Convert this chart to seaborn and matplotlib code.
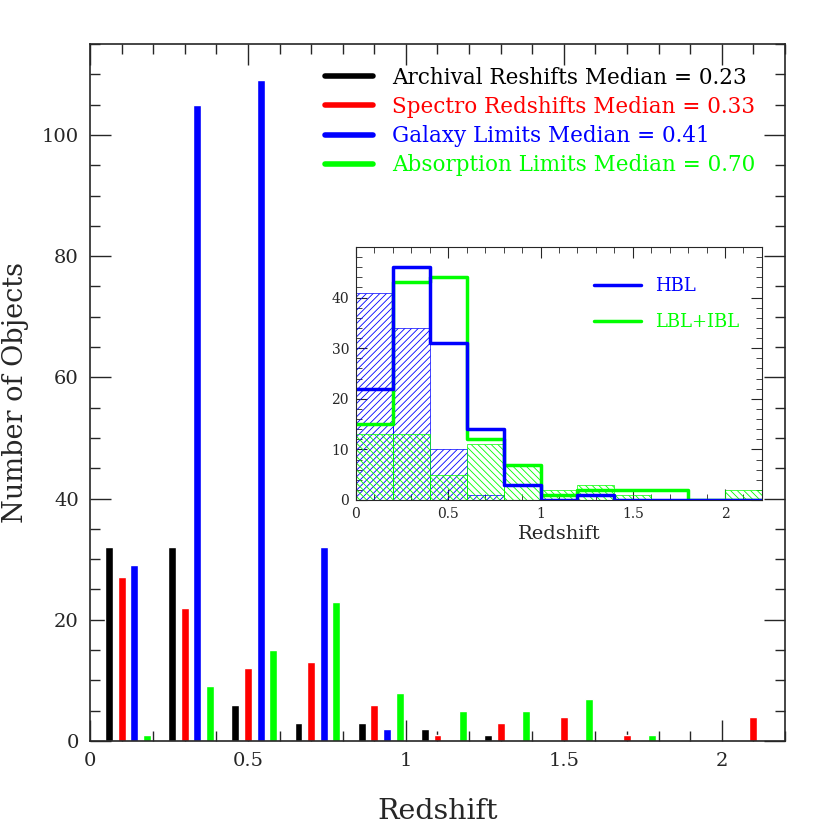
import numpy as np
import pandas as pd
import matplotlib
matplotlib.use('Agg')
import matplotlib.pyplot as plt
import seaborn as sns
from matplotlib.lines import Line2D
from matplotlib.ticker import MultipleLocator

# Datos - histograma principal (bins de 0.2)
bin_lo = [0.0, 0.2, 0.4, 0.6, 0.8, 1.0, 1.2, 1.4, 1.6, 1.8, 2.0]
archival = [32, 32, 6, 3, 3, 2, 1, 0, 0, 0, 0]
spectro = [27, 22, 12, 13, 6, 1, 3, 4, 1, 0, 4]
galaxy = [29, 105, 109, 32, 2, 0, 0, 0, 0, 0, 0]
absorption = [1, 9, 15, 23, 8, 5, 5, 7, 1, 0, 0]
series_names = ['Archival Reshifts Median = 0.23', 'Spectro Redshifts Median = 0.33',
                'Galaxy Limits Median = 0.41', 'Absorption Limits Median = 0.70']
series_colors = ['black', 'red', 'blue', 'lime']

# Datos - inset
edges = [0.0, 0.2, 0.4, 0.6, 0.8, 1.0, 1.2, 1.4, 1.6, 1.8, 2.0, 2.2]
hbl = [22, 46, 31, 14, 3, 0, 1, 0, 0, 0, 0]
lbl_ibl = [15, 43, 44, 12, 7, 1, 2, 2, 2, 0, 0]
hbl_hatch = [41, 34, 10, 1, 0, 0, 0, 0, 0, 0, 0]
lbl_hatch = [13, 13, 5, 11, 7, 2, 3, 1, 0, 0, 2]

rows = []
for name, vals in zip(series_names, [archival, spectro, galaxy, absorption]):
    for b, v in zip(bin_lo, vals):
        rows.append({'z': round(b + 0.12, 2), 'n': v, 'serie': name})
df = pd.DataFrame(rows)

sns.set_style('ticks')
plt.rcParams['font.family'] = ['DejaVu Serif']
plt.rcParams['hatch.linewidth'] = 0.6

fig = plt.figure(figsize=(8.3, 8.3), dpi=100)
ax = fig.add_axes([0.1084, 0.1072, 0.8374, 0.8398])

sns.barplot(data=df, x='z', y='n', hue='serie', hue_order=series_names,
            palette=series_colors, native_scale=True, width=0.8, gap=0.375,
            dodge=True, saturation=1, legend=False, ax=ax)

ax.set_xlim(0, 2.2)
ax.set_ylim(0, 115)
ax.xaxis.set_major_locator(MultipleLocator(0.5))
ax.xaxis.set_minor_locator(MultipleLocator(0.1))
ax.yaxis.set_major_locator(MultipleLocator(20))
ax.yaxis.set_minor_locator(MultipleLocator(5))
ax.xaxis.set_major_formatter(plt.FuncFormatter(lambda v, p: f'{v:g}'))
ax.tick_params(which='both', direction='in', top=True, right=True, labelsize=14, pad=8)
ax.tick_params(which='major', length=15, width=1)
ax.tick_params(which='minor', length=7, width=1)
for s in ax.spines.values():
    s.set_linewidth(1.2)
ax.set_xlabel('Redshift', fontsize=20.5, labelpad=20)
ax.set_ylabel('Number of Objects', fontsize=19.5)
ax.yaxis.set_label_coords(-0.088, 0.5)

handles = [Line2D([], [], color=c, lw=4) for c in series_colors]
leg = ax.legend(handles, series_names, loc='upper right', bbox_to_anchor=(0.985, 0.995),
                frameon=False, fontsize=15.5, handlelength=2.2, handletextpad=0.9,
                labelspacing=0.33, labelcolor=series_colors)

# Inset
ax2 = fig.add_axes([0.4289, 0.3976, 0.4891, 0.3048])
centers = [e + 0.1 for e in edges[:-1]]
for vals, col, hat in [(hbl_hatch, 'blue', '/////'), (lbl_hatch, 'lime', '\\\\\\\\\\')]:
    n0 = len(ax2.patches)
    sns.histplot(x=centers, weights=vals, bins=edges, element='bars', fill=True,
                 color=col, ax=ax2)
    for p in ax2.patches[n0:]:
        p.set_facecolor('none')
        p.set_edgecolor(col)
        p.set_hatch(hat)
        p.set_linewidth(0.5)
        p.set_alpha(1)
sns.histplot(x=centers, weights=lbl_ibl, bins=edges, element='step', fill=False,
             color='lime', linewidth=2.5, ax=ax2)
sns.histplot(x=centers, weights=hbl, bins=edges, element='step', fill=False,
             color='blue', linewidth=2.5, ax=ax2)

ax2.set_xlim(0, 2.2)
ax2.set_ylim(0, 50)
ax2.set_yticks([0, 10, 20, 30, 40])
ax2.xaxis.set_major_locator(MultipleLocator(0.5))
ax2.xaxis.set_minor_locator(MultipleLocator(0.1))
ax2.yaxis.set_minor_locator(MultipleLocator(2))
ax2.xaxis.set_major_formatter(plt.FuncFormatter(lambda v, p: f'{v:g}'))
ax2.tick_params(which='both', direction='in', top=True, right=True, labelsize=10, pad=5)
ax2.tick_params(which='major', length=8)
ax2.tick_params(which='minor', length=4)
ax2.set_xlabel('Redshift', fontsize=14, labelpad=3)
ax2.set_ylabel('')
h2 = [Line2D([], [], color='blue', lw=2.5), Line2D([], [], color='lime', lw=2.5)]
ax2.legend(h2, ['HBL', 'LBL+IBL'], loc='upper right', bbox_to_anchor=(0.985, 0.945),
           frameon=False, fontsize=13, handlelength=2.6, labelspacing=1.0,
           labelcolor=['blue', 'lime'])

fig.savefig('out.png', dpi=100)
